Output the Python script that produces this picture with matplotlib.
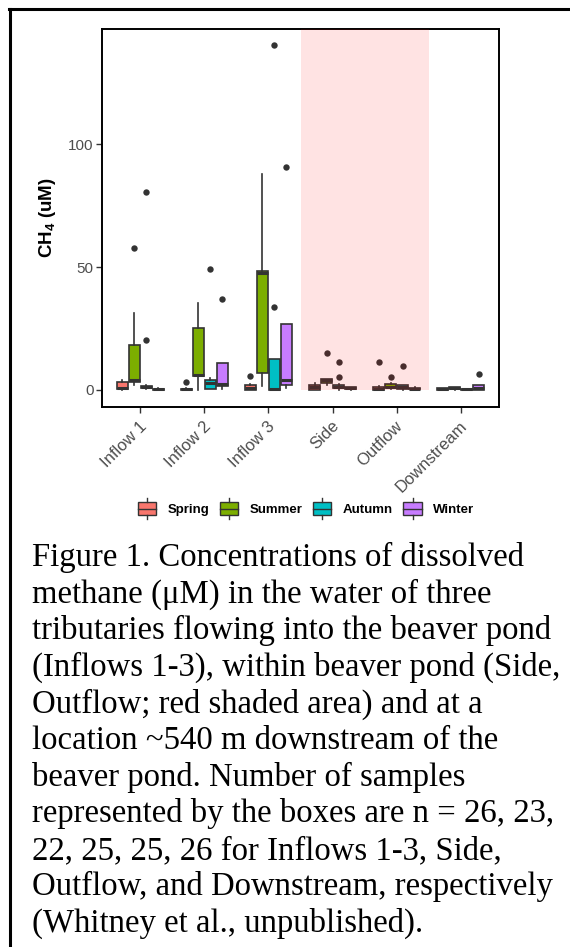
import matplotlib
matplotlib.use('Agg')
import matplotlib.pyplot as plt
import matplotlib.transforms as mtrans
from matplotlib.patches import Rectangle
from matplotlib.lines import Line2D
from matplotlib.legend_handler import HandlerBase

plt.rcParams['font.family'] = ['Liberation Sans', 'DejaVu Sans']
plt.rcParams['mathtext.fontset'] = 'custom'
plt.rcParams['mathtext.bf'] = 'Liberation Sans:bold'
plt.rcParams['mathtext.rm'] = 'Liberation Sans'

sites = ['Inflow 1', 'Inflow 2', 'Inflow 3', 'Side', 'Outflow', 'Downstream']
seasons = ['Spring', 'Summer', 'Autumn', 'Winter']
colors = ['#F8766D', '#7CAE00', '#00BFC4', '#C77CFF']

# box stats, rows = sites, cols = seasons
whislo = [[0.0, 2.0, 0.2, 0.0],
          [0.0, 0.0, 0.2, 0.5],
          [0.0, 1.5, 0.0, 0.6],
          [0.0, 1.8, 0.0, 0.1],
          [0.0, 0.3, 0.1, 0.1],
          [0.0, 0.1, 0.0, 0.0]]
q1 = [[0.2, 3.0, 0.6, 0.05],
      [0.05, 5.6, 0.5, 1.4],
      [0.1, 7.0, 0.0, 2.0],
      [0.1, 2.9, 0.6, 0.3],
      [0.1, 0.7, 0.4, 0.2],
      [0.05, 0.3, 0.05, 0.1]]
med = [[0.6, 4.0, 1.0, 0.2],
       [0.2, 6.0, 2.6, 2.5],
       [0.8, 47.6, 0.3, 4.0],
       [1.3, 3.8, 1.3, 0.6],
       [0.5, 1.3, 1.1, 0.5],
       [0.3, 0.7, 0.2, 0.7]]
q3 = [[3.3, 18.1, 1.5, 0.4],
      [0.5, 25.3, 4.0, 11.0],
      [1.8, 48.6, 12.7, 26.9],
      [1.8, 4.3, 2.0, 1.0],
      [1.3, 2.2, 1.9, 0.9],
      [0.6, 1.1, 0.4, 1.8]]
whishi = [[4.2, 31.4, 2.0, 0.6],
          [0.8, 35.4, 4.8, 11.0],
          [2.2, 87.9, 12.7, 26.9],
          [2.9, 4.6, 2.4, 1.2],
          [1.6, 2.6, 2.1, 1.0],
          [0.7, 1.2, 0.5, 2.0]]
outliers = [[[], [57.8], [20.1, 80.4], []],
            [[3.2], [], [49.3], [36.8]],
            [[5.6], [], [33.7, 140.3], [90.6]],
            [[], [15.1], [5.4, 11.3], []],
            [[11.2], [5.4], [9.6], []],
            [[], [], [], [6.3]]]

caption = [
    'Figure 1. Concentrations of dissolved',
    'methane (\u03bcM) in the water of three',
    'tributaries flowing into the beaver pond',
    '(Inflows 1-3), within beaver pond (Side,',
    'Outflow; red shaded area) and at a',
    'location ~540 m downstream of the',
    'beaver pond. Number of samples',
    'represented by the boxes are n = 26, 23,',
    '22, 25, 25, 26 for Inflows 1-3, Side,',
    'Outflow, and Downstream, respectively',
    '(Whitney et al., unpublished).',
]

W, H = 570, 947
fig = plt.figure(figsize=(W / 100, H / 100), dpi=100)
ax = fig.add_axes([102 / W, 1 - 407 / H, 397 / W, 378 / H])

edge = '#333333'
for i, site in enumerate(sites):
    for j, season in enumerate(seasons):
        pos = i + 1 + (j - 1.5) * 0.1875
        st = dict(whislo=whislo[i][j], q1=q1[i][j], med=med[i][j], q3=q3[i][j],
                  whishi=whishi[i][j], fliers=outliers[i][j])
        ax.bxp([st], positions=[pos], widths=0.17, patch_artist=True, showcaps=False,
               manage_ticks=False,
               boxprops=dict(facecolor=colors[j], edgecolor=edge, linewidth=1.2),
               medianprops=dict(color=edge, linewidth=2.2, solid_capstyle='butt'),
               whiskerprops=dict(color=edge, linewidth=1.2),
               flierprops=dict(marker='o', markerfacecolor=edge, markeredgecolor=edge,
                               markersize=4.6, markeredgewidth=0))

# pond area shading (Side + Outflow)
x0 = sites.index('Side') + 1 - 0.5
x1 = sites.index('Outflow') + 1 + 0.5
ax.fill_between([x0, x1], 0, 200, color='red', alpha=0.11, linewidth=0, zorder=5)

ax.set_xlim(0.4, 6.6)
ax.set_ylim(-7, 147)
ax.set_yticks([0, 50, 100])
ax.set_xticks(range(1, len(sites) + 1))
ax.set_xticklabels(sites, rotation=45, ha='right', va='center', rotation_mode='anchor')
ax.tick_params(length=4, width=1, color=edge, labelcolor='#4D4D4D', labelsize=11, pad=2)
ax.tick_params(axis='x', pad=8, labelsize=12)
shift = mtrans.ScaledTranslation(4 / 100, 0, fig.dpi_scale_trans)
for lab in ax.get_xticklabels():
    lab.set_transform(lab.get_transform() + shift)
for s in ax.spines.values():
    s.set_linewidth(1.4)
    s.set_color('black')

ax.set_ylabel(r'$\mathbf{CH_4}$ $\mathbf{(uM)}$', fontsize=13.5)
ax.yaxis.set_label_coords(-0.11, 0.5)


class BoxKey(HandlerBase):
    def create_artists(self, legend, orig_handle, xdescent, ydescent, width, height, fontsize, trans):
        x = -xdescent
        y = -ydescent
        mid = y + height / 2
        bh = height * 1.35
        r = Rectangle((x, mid - bh / 2), width, bh, facecolor=orig_handle.get_facecolor(),
                      edgecolor=edge, linewidth=1.0, transform=trans)
        m = Line2D([x, x + width], [mid, mid], color=edge, linewidth=1.0, transform=trans)
        w1 = Line2D([x + width / 2] * 2, [mid + bh / 2, mid + bh / 2 + 3], color=edge, linewidth=1.0, transform=trans)
        w2 = Line2D([x + width / 2] * 2, [mid - bh / 2, mid - bh / 2 - 3], color=edge, linewidth=1.0, transform=trans)
        return [r, m, w1, w2]


handles = [Rectangle((0, 0), 1, 1, facecolor=c) for c in colors]
fig.legend(handles, seasons, handler_map={Rectangle: BoxKey()}, ncol=4, frameon=False,
           loc='center', bbox_to_anchor=(306 / W, 1 - 510 / H),
           prop=dict(weight='bold', size=9.5), handlelength=1.4, handletextpad=0.85,
           columnspacing=0.8)

# frame of the figure image (cropped on right and bottom)
fig.add_artist(Line2D([9 / W, 1], [1 - 9 / H] * 2, transform=fig.transFigure, color='black', lw=2.2))
fig.add_artist(Line2D([10 / W] * 2, [0, 1 - 9 / H], transform=fig.transFigure, color='black', lw=2.2))

for k, line in enumerate(caption):
    fig.text(32 / W, 1 - (566 + k * 36.6) / H, line, fontfamily='Liberation Serif',
             fontsize=23.6, va='baseline', ha='left')

fig.savefig('out.png', dpi=100)
